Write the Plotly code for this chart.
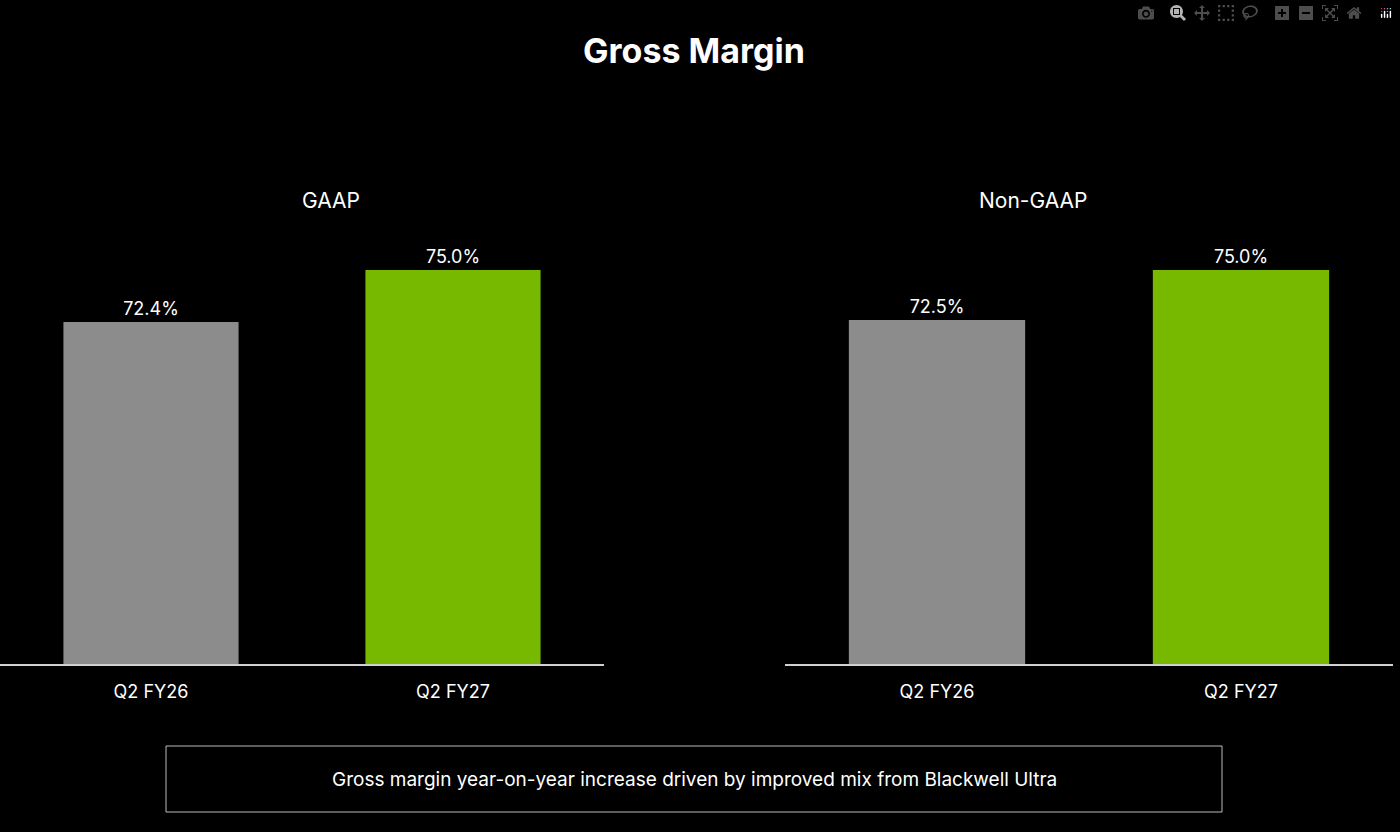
import plotly.graph_objects as go
from plotly.subplots import make_subplots

# Data
categories = ["Q2 FY26", "Q2 FY27"]
gaap_values = [72.4, 75.0]
non_gaap_values = [72.5, 75.0]
panel_titles = ["GAAP", "Non-GAAP"]
bar_colors = ["#8c8c8c", "#76b900"]
footnote = "Gross margin year-on-year increase driven by improved mix from Blackwell Ultra"

W, H = 1400, 832
FONT = "Inter"

fig = make_subplots(rows=1, cols=2)

for col, vals in [(1, gaap_values), (2, non_gaap_values)]:
    fig.add_trace(
        go.Bar(
            x=categories,
            y=vals,
            marker=dict(color=bar_colors, line=dict(width=0)),
            width=0.58,
            text=[f"{v:.1f}%" for v in vals],
            textposition="outside",
            textfont=dict(color="white", size=18, family=FONT),
            cliponaxis=False,
            showlegend=False,
        ),
        row=1,
        col=col,
    )

y_dom = [(H - 664) / H, (H - 230) / H]
fig.update_layout(
    width=W,
    height=H,
    paper_bgcolor="black",
    plot_bgcolor="black",
    margin=dict(l=0, r=0, t=0, b=0),
    font=dict(family=FONT, color="white"),
    xaxis=dict(domain=[0, 604 / W]),
    xaxis2=dict(domain=[785 / W, 1393 / W]),
    yaxis=dict(domain=y_dom),
    yaxis2=dict(domain=y_dom),
)
fig.update_xaxes(
    showline=True, linecolor="#d0d0d0", linewidth=2, showgrid=False,
    tickfont=dict(size=18, color="white", family=FONT), ticks="", ticklabelstandoff=10,
)
fig.update_yaxes(range=[55.3, 77.0], visible=False, showgrid=False)

fig.add_annotation(text="<b>Gross Margin</b>", x=694 / W, y=(H - 50) / H, xref="paper", yref="paper",
                   yanchor="middle", showarrow=False, font=dict(size=34, color="white", family=FONT))
for title, xc in zip(panel_titles, [300, 1089]):
    fig.add_annotation(text=title, x=xc / W, y=(H - 200) / H, xref="paper", yref="paper",
                       yanchor="middle", showarrow=False, font=dict(size=21, color="white", family=FONT))

fig.add_shape(type="rect", xref="paper", yref="paper",
              x0=166 / W, x1=1222 / W, y0=(H - 812) / H, y1=(H - 746) / H,
              line=dict(color="#bbbbbb", width=1))
fig.add_annotation(text=footnote, x=694 / W, y=(H - 779) / H, xref="paper", yref="paper",
                   yanchor="middle", showarrow=False, font=dict(size=19, color="white", family=FONT))

fig.write_html(
    "out.html",
    post_script="document.body.style.margin='0';document.body.style.background='black';",
)
